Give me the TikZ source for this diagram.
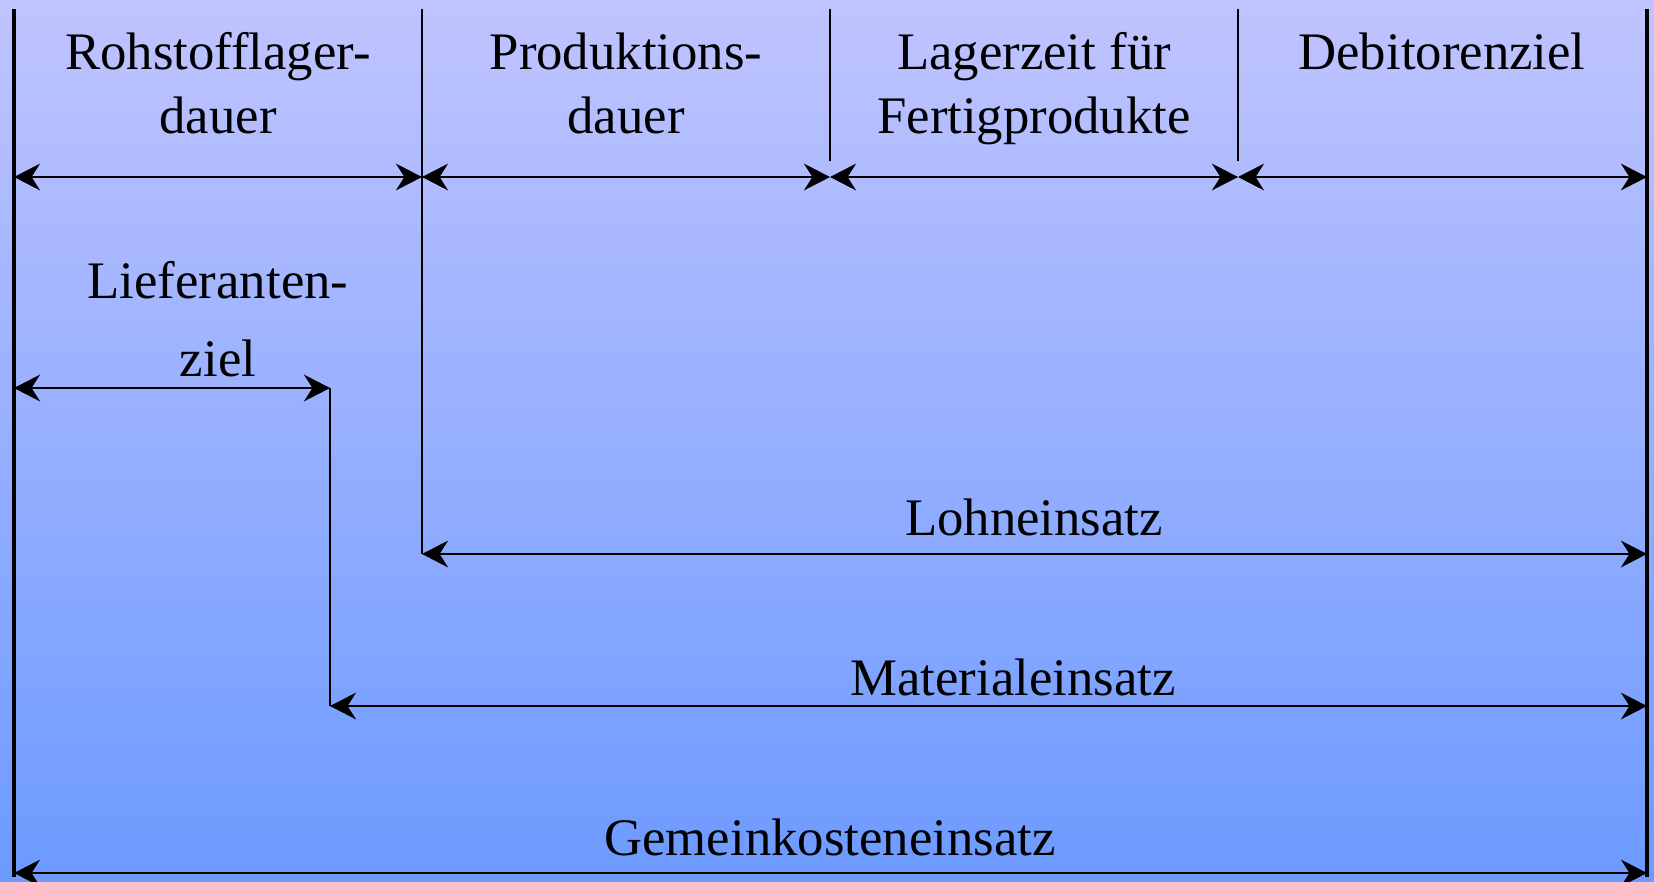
\documentclass[tikz,border=0pt]{standalone}
\usepackage{fontspec}
\setmainfont{Liberation Serif}
\usetikzlibrary{arrows.meta}
\definecolor{skytop}{RGB}{192,196,255}
\definecolor{skybottom}{RGB}{108,154,255}
\tikzset{>={Stealth[length=7.4pt,width=7.6pt,inset=2.4pt]},
  every node/.style={font=\fontsize{15}{18.2}\selectfont,inner sep=0pt},
  span/.style={<->,line width=.6pt},
  border/.style={line width=1.4pt},
  divider/.style={line width=.6pt},
  caption/.style={anchor=base,align=center}}
\begin{document}
\begin{tikzpicture}[x=.01cm,y=-.01cm]
\shade[top color=skytop,bottom color=skybottom](0,0)rectangle(1654,881);
\useasboundingbox(0,0)rectangle(1654,881);
% Zeitachse
\coordinate(ltop)at(14,9);\coordinate(lbot)at(14,877);
\coordinate(rtop)at(1647,9);\coordinate(rbot)at(1647,877);
\foreach\i/\x in{0/14,1/422,2/830,3/1238,4/1647}\coordinate(r\i)at(\x,177);
\coordinate(d1t)at(422,9);\coordinate(d1b)at(422,554);
\coordinate(d2t)at(830,9);\coordinate(d2b)at(830,161);
\coordinate(d3t)at(1238,9);\coordinate(d3b)at(1238,161);
\coordinate(l0)at(14,388);\coordinate(l1)at(330,388);
\coordinate(m0)at(330,706);\coordinate(m1)at(1647,706);
\coordinate(n1)at(1647,554);
\coordinate(g0)at(14,873);\coordinate(g1)at(1647,873);
\draw[border](ltop)--(lbot);\draw[border](rtop)--(rbot);
\draw[divider](d1t)--(d1b);\draw[divider](d2t)--(d2b);\draw[divider](d3t)--(d3b);
\draw[divider](l1)--(m0);
\draw[span](r0)--(r1);\draw[span](r1)--(r2);\draw[span](r2)--(r3);\draw[span](r3)--(r4);
\draw[span](l0)--(l1);
\draw[span](d1b)--(n1);
\draw[span](m0)--(m1);
\draw[span](g0)--(g1);
% Beschriftung
\node[caption](rohst)at(218,133){Rohstofflager-\\dauer};
\node[caption](prod)at(626,133){Produktions-\\dauer};
\node[caption](lager)at(1034,133){Lagerzeit f\"ur\\Fertigprodukte};
\node[caption](debit)at(1442,69){Debitorenziel};
\node[caption](liefer)at(218,376){Lieferanten-\\[3.7pt]ziel};
\node[caption](lohn)at(1034,535){Lohneinsatz};
\node[caption](mat)at(1013,695){Materialeinsatz};
\node[caption](gemein)at(830,855){Gemeinkosteneinsatz};
\end{tikzpicture}
\end{document}
